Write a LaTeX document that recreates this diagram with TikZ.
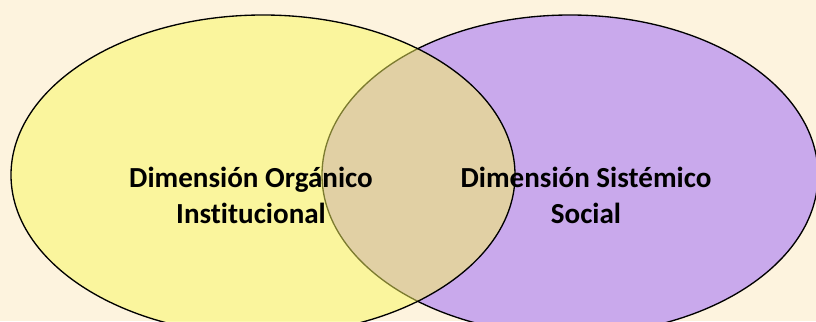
\documentclass[tikz,border=0pt]{standalone}
\usepackage{fontspec}
\setmainfont[Ligatures=NoCommon]{Carlito}
\usepackage{tikz}
\definecolor{paper}{RGB}{253,243,222}
\definecolor{lemon}{RGB}{249,247,94}
\definecolor{lilac}{RGB}{201,169,236}

\begin{document}
\begin{tikzpicture}[x=0.75pt,y=-0.75pt,thick,dim label/.style={align=center,font=\bfseries\fontsize{21.8}{27}\selectfont,text=black}]

  \useasboundingbox (0,0) rectangle (816,321);
  \fill[paper] (0,0) rectangle (816,321);

  \begin{scope}
    \clip (0,0) rectangle (816,321);
    \draw[fill=lilac,line width=1pt] (570,175) ellipse [x radius=248,y radius=160];
    \draw[fill=lemon,fill opacity=0.5,line width=1pt] (263,175) ellipse [x radius=252,y radius=160];
  \end{scope}

  \node[dim label] (organico) at (251,195) {Dimensión Orgánico\\Institucional};
  \node[dim label] (sistemico) at (586,195) {Dimensión Sistémico\\Social};
\end{tikzpicture}
\end{document}
